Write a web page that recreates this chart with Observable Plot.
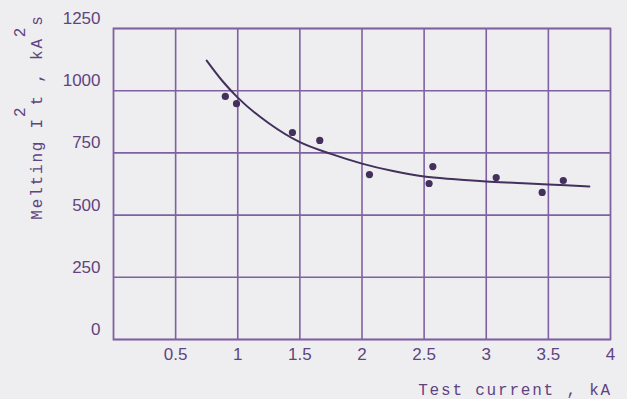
<!DOCTYPE html>
<html>
<head>
<meta charset="utf-8">
<script src="https://cdn.jsdelivr.net/npm/d3@7"></script>
<script src="https://cdn.jsdelivr.net/npm/@observablehq/plot@0.6"></script>
<style>
  html, body { margin: 0; padding: 0; background: #eeeef0; }
  #chart svg { display: block; }
</style>
</head>
<body>
<div id="chart"></div>
<script>
// Measured points
const pointX = [0.90, 0.99, 1.44, 1.66, 2.06, 2.57, 2.54, 3.08, 3.45, 3.62];
const pointY = [977, 948, 832, 800, 663, 695, 627, 651, 591, 639];

// Fitted curve
const curveX = [0.75, 0.875, 1.0, 1.25, 1.5, 1.75, 2.0, 2.25, 2.5, 2.75, 3.0, 3.25, 3.5, 3.83];
const curveY = [1121, 1040, 972, 869, 793, 746, 707, 677, 655, 644, 635, 629, 623, 615];

// Ticks
const xGrid = [0.5, 1, 1.5, 2, 2.5, 3, 3.5];
const xTicks = [0.5, 1, 1.5, 2, 2.5, 3, 3.5, 4];
const yTicks = [0, 250, 500, 750, 1000, 1250];

const xTitle = "Test current , kA";

const points = pointX.map((x, i) => ({x, y: pointY[i]}));
const curve = curveX.map((x, i) => ({x, y: curveY[i]}));

const gridColor = "#7f60a2";
const inkColor = "#43305c";
const labelColor = "#5e4480";

const chart = Plot.plot({
  width: 627,
  height: 399,
  marginLeft: 113,
  marginRight: 17,
  marginTop: 28,
  marginBottom: 60,
  style: {background: "#eeeef0", fontFamily: "'Liberation Sans', Arial, sans-serif", fontSize: "17px", color: labelColor},
  x: {domain: [0, 4]},
  y: {domain: [0, 1250]},
  marks: [
    Plot.gridX(xGrid, {stroke: gridColor, strokeOpacity: 1, strokeWidth: 1.6}),
    Plot.gridY(yTicks, {stroke: gridColor, strokeOpacity: 1, strokeWidth: 1.6}),
    Plot.frame({stroke: gridColor, strokeWidth: 1.8}),
    Plot.axisX(xTicks, {tickSize: 0, tickPadding: 8, label: null, fill: labelColor, tickFormat: d => String(d)}),
    Plot.axisY(yTicks, {tickSize: 0, tickPadding: 13, dy: -10, label: null, fill: labelColor, tickFormat: d => String(d)}),
    Plot.line(curve, {x: "x", y: "y", curve: "monotone-x", stroke: inkColor, strokeWidth: 2}),
    Plot.dot(points, {x: "x", y: "y", r: 3.6, fill: inkColor, stroke: "none"})
  ]
});

document.getElementById("chart").appendChild(chart);

const svg = d3.select(chart);
const mono = "'Liberation Mono', 'DejaVu Sans Mono', monospace";

// Y title with superscripts
const yt = svg.append("text")
  .attr("transform", "translate(42,117) rotate(-90)")
  .attr("text-anchor", "middle")
  .attr("font-family", mono)
  .attr("font-size", 16)
  .attr("letter-spacing", 1.8)
  .attr("fill", labelColor);
yt.append("tspan").text("Melting I");
yt.append("tspan").attr("dy", -17).text("2");
yt.append("tspan").attr("dy", 17).text("t , kA");
yt.append("tspan").attr("dy", -17).text("2");
yt.append("tspan").attr("dy", 17).text("s");

// X title
svg.append("text")
  .attr("x", 612)
  .attr("y", 395)
  .attr("text-anchor", "end")
  .attr("font-family", mono)
  .attr("font-size", 16)
  .attr("letter-spacing", 1.8)
  .attr("fill", labelColor)
  .text(xTitle);
</script>
</body>
</html>
